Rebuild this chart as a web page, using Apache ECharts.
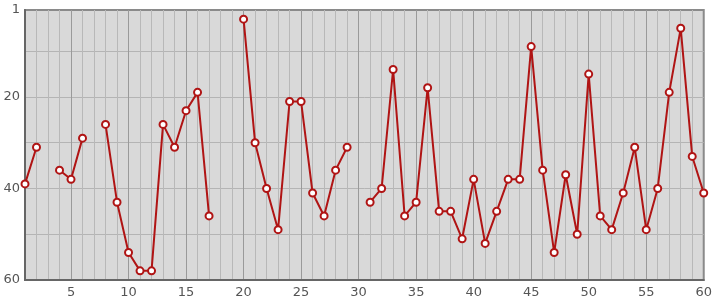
<!DOCTYPE html>
<html><head><meta charset="utf-8">
<script src="https://cdn.jsdelivr.net/npm/echarts@6/dist/echarts.min.js"></script>
<style>html,body{margin:0;padding:0;background:#fff}#c{width:715px;height:300px}</style>
</head><body><div id="c"></div>
<script>
const xValues = [];
for (let i = 1; i <= 60; i++) xValues.push(i);
const yValues = [39,31,null,36,38,29,null,26,43,54,58,58,26,31,23,19,46,null,null,3,
  30,40,49,21,21,41,46,36,31,null,43,40,14,46,43,18,45,45,51,38,
  52,45,38,38,9,36,54,37,50,15,46,49,41,31,49,40,19,5,33,41];
const xTickLabels = [5,10,15,20,25,30,35,40,45,50,55,60];
const yGridValues = [1,10,20,30,40,50,60];
const yTickLabels = [1,20,40,60];

const chart = echarts.init(document.getElementById('c'), null, {renderer:'canvas'});
const minorCol = '#b8b8b8', majorCol = '#9a9a9a';
chart.setOption({
  animation:false,
  grid:{left:25,right:8,top:10,bottom:20,show:true,backgroundColor:'#d9d9d9',borderColor:'#8a8a8a',borderWidth:2},
  xAxis:{type:'value',min:1,max:60,
    axisLine:{show:true,onZero:false,lineStyle:{color:'#666',width:2}},
    axisTick:{show:false,customValues:xValues},
    axisLabel:{customValues:xTickLabels,color:'#555',fontSize:13,fontFamily:'DejaVu Sans',margin:6},
    splitLine:{show:true,showMinLine:false,showMaxLine:false,lineStyle:{color:[minorCol,minorCol,minorCol,majorCol,minorCol],width:1}}
  },
  yAxis:{type:'value',min:1,max:60,inverse:true,
    axisLine:{show:true,onZero:false,lineStyle:{color:'#666',width:2}},
    axisTick:{show:false,customValues:yGridValues},
    axisLabel:{customValues:yTickLabels,color:'#555',fontSize:13,fontFamily:'DejaVu Sans',margin:5},
    splitLine:{show:true,showMinLine:false,showMaxLine:false,lineStyle:{color:'#b4b4b4',width:1}}
  },
  series:[{type:'line',data:xValues.map((x,i)=>[x,yValues[i]]),connectNulls:false,
    symbol:'emptyCircle',symbolSize:7,
    lineStyle:{color:'#b01414',width:2},
    itemStyle:{color:'#b01414',borderColor:'#b01414',borderWidth:2},
    clip:false}]
});
</script></body></html>
